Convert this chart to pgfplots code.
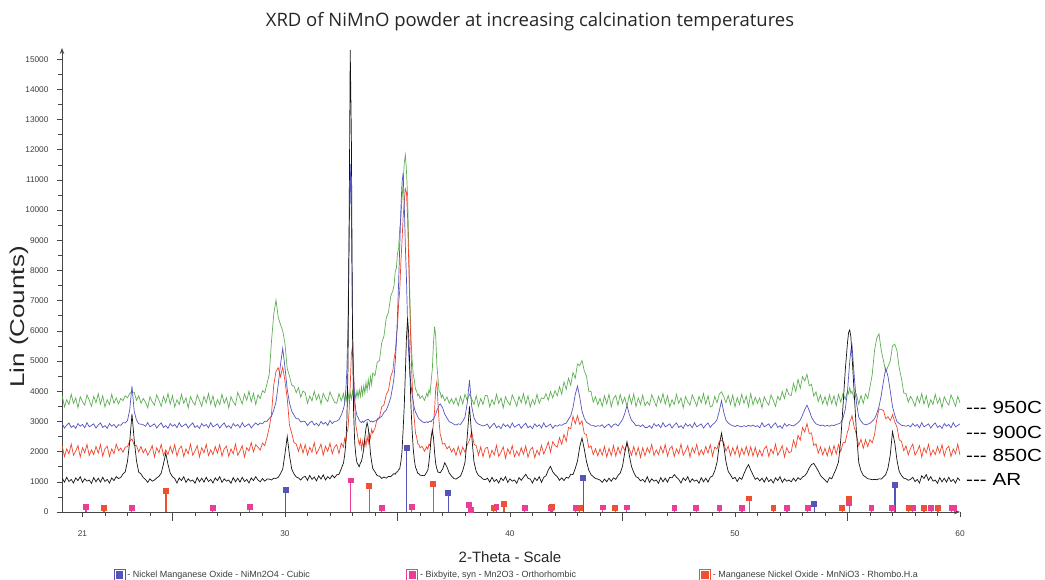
\documentclass[border=0pt]{standalone}
\usepackage{fontspec}
\setmainfont{Liberation Sans}
\newfontfamily\titlefont{Open Sans}
\usepackage{graphicx}
\usepackage{pgfplots}
\usepackage{pgfplotstable}
\pgfplotsset{compat=1.18}
\usetikzlibrary{arrows.meta}

\definecolor{cAR}{RGB}{20,20,20}
\definecolor{c850}{RGB}{240,70,45}
\definecolor{c900}{RGB}{85,85,190}
\definecolor{c950}{RGB}{95,175,85}
\definecolor{sBlue}{RGB}{85,85,185}
\definecolor{sPink}{RGB}{235,60,150}
\definecolor{sRed}{RGB}{240,80,50}
\definecolor{axisgray}{RGB}{70,70,70}
\definecolor{labgray}{RGB}{60,60,60}

% 2-theta, AR, 850C, 900C, 950C (counts)
\pgfplotstableread{
x ar r850 b900 g950
20.1 1120 2180 2920 3850
20.2 990 1840 2780 3480
20.3 1150 2090 2880 3720
20.4 1010 1930 2950 3560
20.5 1080 2250 2800 3900
20.6 960 1880 2860 3600
20.7 1130 2020 2770 3780
20.8 1040 2200 2930 3450
20.9 1170 1820 2840 3820
21.0 980 2130 2900 3650
21.1 1100 1960 2790 3540
21.2 1020 2240 2960 3880
21.3 1060 1870 2820 3700
21.4 950 2060 2870 3500
21.5 1140 1900 2920 3830
21.6 1000 2170 2780 3620
21.7 1120 1950 2880 3920
21.8 990 2230 2950 3570
21.9 1150 1850 2800 3850
22.0 1010 2100 2860 3480
22.1 1080 2180 2770 3720
22.2 960 1840 2930 3560
22.3 1130 2090 2840 3900
22.4 1040 1930 2900 3600
22.5 1170 2250 2790 3780
22.6 1110 2030 2890 3580
22.7 1140 2120 2870 3760
22.8 1260 1980 2960 3690
22.9 1330 2150 2950 3850
23.0 1680 2160 3030 3780
23.1 2330 2350 3380 3930
23.2 3250 2420 4170 3980
23.3 2380 2210 3330 3960
23.4 1700 2200 3050 3700
23.5 1320 1990 2920 3850
23.6 1260 2170 2910 3600
23.7 1140 1960 2890 3760
23.8 1080 2090 2840 3640
23.9 980 1880 2960 3450
24.0 1100 2020 2820 3820
24.1 1020 2200 2870 3650
24.2 1060 1820 2920 3540
24.3 1130 2130 2780 3880
24.4 1180 1960 2880 3700
24.5 1290 2240 2950 3500
24.6 1590 1870 2800 3830
24.7 1950 2060 2860 3620
24.8 1580 1900 2770 3920
24.9 1290 2170 2930 3570
25.0 1170 1950 2840 3850
25.1 1110 2230 2900 3480
25.2 960 1850 2790 3720
25.3 1130 2100 2960 3560
25.4 1040 2180 2820 3900
25.5 1170 1840 2870 3600
25.6 980 2090 2920 3780
25.7 1100 1930 2780 3450
25.8 1020 2250 2880 3820
25.9 1060 1880 2950 3650
26.0 950 2020 2800 3540
26.1 1140 2200 2860 3880
26.2 1000 1820 2770 3700
26.3 1120 2130 2930 3500
26.4 990 1960 2840 3830
26.5 1150 2240 2900 3620
26.6 1010 1870 2790 3920
26.7 1080 2060 2960 3570
26.8 960 1900 2820 3850
26.9 1130 2170 2870 3480
27.0 1040 1950 2920 3720
27.1 1170 2230 2780 3560
27.2 980 1850 2880 3900
27.3 1100 2100 2950 3600
27.4 1020 2180 2800 3780
27.5 1060 1840 2860 3450
27.6 950 2090 2770 3820
27.7 1140 1930 2930 3650
27.8 1000 2250 2840 3540
27.9 1120 1880 2900 3960
28.0 990 2020 2790 3780
28.1 1150 2200 2960 3580
28.2 1010 1820 2820 3910
28.3 1080 2130 2870 3700
28.4 960 2020 2920 4000
28.5 1130 2300 2780 3650
28.6 1040 1990 2880 3930
28.7 1170 2230 2950 3560
28.8 1060 2150 2880 3880
28.9 1000 2050 2950 3760
29.0 1110 2280 2920 4020
29.1 1020 2200 3010 3950
29.2 1090 2470 3000 4250
29.3 1090 2790 3100 4560
29.4 1060 3250 3170 5650
29.5 1120 4200 3370 6550
29.6 1110 4650 3640 7020
29.7 1150 4780 4220 6450
29.8 1270 4480 4880 6210
29.9 1420 4800 5420 6000
30.0 1930 4330 4790 5580
30.1 2500 3760 4060 4750
30.2 1880 2880 3610 4500
30.3 1420 2610 3340 4200
30.4 1260 2300 3210 4170
30.5 1160 2250 3090 3950
30.6 1130 2010 3090 4120
30.7 1060 2250 2980 3800
30.8 1150 1950 3010 4010
30.9 1180 2230 2990 3950
31.0 1050 1890 2860 3600
31.1 1210 2140 2960 3840
31.2 1080 1980 3010 3680
31.3 1160 2300 2880 4000
31.4 1030 1930 2940 3720
31.5 1200 2070 2850 3900
31.6 1090 2250 3000 3580
31.7 1230 1880 2910 3930
31.8 1060 2180 2970 3760
31.9 1170 2010 2870 3660
32.0 1100 2280 3030 3980
32.1 1220 1930 2930 3800
32.2 1130 2150 3000 3640
32.3 1230 2230 3010 3600
32.4 1250 1930 3060 3920
32.5 1430 2280 3210 3680
32.6 1630 2150 3420 3920
32.65 1870 2430 3590 3640
32.7 2230 2300 3960 3950
32.75 3020 2620 4690 3700
32.8 4780 2760 6210 3960
32.85 9500 3350 9000 3680
32.9 15300 4180 11530 3930
32.95 12500 5230 9800 3740
33.0 6000 5480 6300 4000
33.05 3320 4580 4510 3720
33.1 2280 3540 3690 3980
33.15 1870 2870 3360 3750
33.2 1630 2640 3190 4020
33.25 1570 2420 3130 3790
33.3 1500 2230 3040 4050
33.35 1620 2400 2990 3820
33.4 1680 2080 2960 4130
33.45 1870 2350 3010 3870
33.5 2080 2130 2970 4180
33.55 2470 2400 3020 3930
33.6 2780 2190 3040 4290
33.65 2960 2500 3060 4020
33.7 2790 2290 3070 4390
33.75 2420 2600 3030 4110
33.8 1930 2450 2990 4480
33.85 1670 2740 3010 4220
33.9 1440 2610 2980 4600
34.0 1330 2780 3020 4520
34.1 1200 3090 3040 4960
34.2 1190 3130 3120 5020
34.3 1110 3480 3170 5610
34.4 1160 3550 3300 5830
34.5 1120 3890 3370 6420
34.6 1180 4030 3560 6620
34.7 1170 4490 3790 7150
34.8 1250 4700 4210 7350
34.85 1270 5080 4480 7520
34.9 1250 5300 4970 7960
34.95 1320 5760 5590 8080
35.0 1330 6150 6510 8560
35.05 1400 6880 7590 8730
35.1 1440 7350 8800 9380
35.15 1660 8260 10000 9740
35.2 1990 8950 10900 10380
35.25 2710 9760 11220 10850
35.3 3490 10250 10200 11560
35.35 4610 10700 8800 11830
35.4 5790 10580 7700 11280
35.45 6420 9740 6200 10450
35.5 5880 8260 5210 8760
35.55 4710 6740 4590 7140
35.6 3490 5370 4210 5760
35.65 2710 4340 3890 5050
35.7 2090 3470 3660 4560
35.75 1720 3050 3440 4350
35.8 1480 2610 3310 4060
35.85 1400 2490 3240 4020
35.9 1280 2260 3160 3850
35.95 1270 2240 3090 3900
36.0 1220 2130 3060 3760
36.1 1210 2170 2990 3850
36.2 1200 2010 2960 3700
36.3 1320 2160 2990 3930
36.35 1390 2080 2960 3820
36.4 1660 2250 2990 4050
36.45 2040 2190 3010 3930
36.5 2510 2460 2990 4360
36.55 2720 2570 3060 4750
36.6 2460 2950 3070 5620
36.65 1960 3380 3170 6140
36.7 1590 4110 3240 5810
36.75 1430 4320 3360 4880
36.8 1320 3590 3440 4420
36.85 1310 2990 3550 3990
36.9 1300 2560 3580 3960
36.95 1360 2450 3520 3790
37.0 1410 2250 3460 3880
37.1 1630 2270 3240 3680
37.2 1490 2090 3110 3810
37.3 1290 2180 2990 3600
37.4 1190 1990 2960 3750
37.5 1110 2110 2910 3580
37.6 1090 1870 2880 3780
37.7 1140 2170 2920 3520
37.8 1190 1900 2900 3830
37.9 1370 2150 3010 3580
38.0 1640 1980 3140 3900
38.1 2490 2230 3610 3700
38.2 3500 2380 4370 3900
38.3 2510 2660 3490 3740
38.4 1660 2250 3120 3560
38.5 1340 2190 2970 3850
38.6 1210 1880 2910 3500
38.7 1160 2160 2880 3760
38.8 1090 1830 2850 3560
38.9 1070 2110 2870 3860
39.0 1120 2140 2910 3850
39.1 990 1800 2770 3480
39.2 1150 2050 2870 3720
39.3 1010 1890 2940 3560
39.4 1080 2210 2790 3900
39.5 960 1840 2850 3600
39.6 1130 1980 2760 3780
39.7 1040 2160 2920 3450
39.8 1170 1780 2830 3820
39.9 980 2090 2890 3650
40.0 1100 1920 2780 3540
40.1 1020 2200 2950 3880
40.2 1060 1830 2810 3700
40.3 950 2020 2860 3500
40.4 1140 1860 2910 3830
40.5 1050 2130 2770 3620
40.6 1150 1910 2870 3920
40.7 1250 2190 2940 3570
40.8 1120 1810 2790 3850
40.9 1090 2060 2850 3480
41.0 960 2140 2760 3720
41.1 1130 1800 2920 3560
41.2 1040 2050 2830 3900
41.3 1170 1890 2890 3600
41.4 980 2210 2780 3780
41.5 1150 1920 2950 3750
41.6 1200 2100 2810 3920
41.7 1390 2320 2860 3700
41.8 1510 1980 2910 3990
41.9 1330 2330 2770 3780
42.0 1240 2200 2870 4020
42.1 1170 2150 2840 3850
42.2 1050 2460 2890 4150
42.3 1130 2240 2870 3900
42.4 1040 2570 2920 4310
42.5 1150 2340 2940 4060
42.6 1120 2800 3070 4430
42.7 1250 2760 3190 4200
42.8 1240 3170 3460 4620
42.9 1440 2920 3890 4430
43.0 1690 3190 4170 4900
43.1 2160 2900 3810 4850
43.2 2450 3020 3340 5020
43.3 2090 2600 3110 4680
43.4 1670 2560 2970 4500
43.5 1390 2130 2930 4000
43.6 1240 2190 2870 3990
43.7 1170 1900 2870 3640
43.8 1110 2100 2830 3820
43.9 1090 1860 2860 3560
44.0 1060 2090 2840 3760
44.1 980 1880 2890 3500
44.2 1090 2170 2790 3850
44.3 1000 1820 2870 3580
44.4 1120 2110 2910 3900
44.5 1020 1870 2800 3480
44.6 1130 2200 2890 3760
44.7 1080 1850 2920 3860
44.8 1210 2150 2850 3540
44.9 1290 1930 2950 3890
45.0 1510 2190 3060 3600
45.1 1960 2040 3260 3800
45.2 2330 2250 3520 3500
45.3 1890 2100 3240 3880
45.4 1510 1880 3040 3580
45.5 1310 2170 2960 3910
45.6 1170 1870 2860 3490
45.7 1130 2140 2880 3780
45.8 1030 1810 2830 3560
45.9 1080 2130 2890 3870
46.0 990 1860 2800 3520
46.1 1170 2130 2800 3650
46.2 980 1960 2860 3540
46.3 1100 2240 2770 3880
46.4 1020 1870 2930 3700
46.5 1060 2060 2840 3500
46.6 950 1900 2900 3830
46.7 1140 2170 2790 3620
46.8 1000 1950 2960 3920
46.9 1120 2230 2820 3570
47.0 990 1850 2870 3850
47.1 1150 2100 2920 3480
47.2 1130 2180 2780 3720
47.3 1240 1840 2880 3560
47.4 1150 2090 2950 3900
47.5 1080 1930 2800 3600
47.6 960 2250 2860 3780
47.7 1130 1880 2770 3450
47.8 1040 2020 2930 3820
47.9 1170 2200 2840 3650
48.0 980 1820 2900 3540
48.1 1100 2130 2790 3880
48.2 1020 1960 2960 3700
48.3 1060 2240 2820 3500
48.4 950 1870 2870 3830
48.5 1140 2060 2920 3620
48.6 1000 1900 2780 3920
48.7 1120 2170 2880 3570
48.8 990 1950 2950 3850
48.9 1150 2230 2800 3480
49.0 1190 1850 2900 3520
49.1 1360 2150 2950 3830
49.2 1640 2090 3060 3620
49.3 2210 2340 3340 3900
49.4 2610 2380 3690 3980
49.5 2190 2300 3310 3820
49.6 1660 2020 3040 3620
49.7 1340 2180 2950 3860
49.8 1230 1870 2890 3560
49.9 1100 2130 2860 3870
50.0 1150 1900 2830 3480
50.1 1010 2190 2870 3790
50.2 1140 1830 2840 3560
50.3 1080 2110 2820 3900
50.4 1270 1900 2860 3600
50.5 1440 2170 2830 3840
50.6 1570 1880 2870 3480
50.7 1390 2160 2840 3920
50.8 1230 1850 2880 3550
50.9 1080 2140 2830 3800
51.0 1130 1840 2860 3600
51.1 1030 2050 2790 3780
51.2 1120 1850 2960 3450
51.3 990 2100 2820 3820
51.4 1150 2180 2870 3650
51.5 1010 1840 2920 3540
51.6 1080 2090 2780 3880
51.7 960 1930 2880 3700
51.8 1130 2250 2950 3500
51.9 1040 1880 2800 3830
52.0 1170 2020 2860 3700
52.1 980 2200 2770 3990
52.2 1100 1820 2930 3760
52.3 1020 2130 2840 4080
52.4 1060 1960 2900 3880
52.5 1000 2000 2870 3860
52.6 1120 2380 2850 4260
52.7 1020 2140 2900 3990
52.8 1140 2540 2960 4390
52.9 1070 2380 3040 4100
53.0 1160 2800 3210 4480
53.1 1200 2650 3390 4340
53.2 1300 2930 3540 4560
53.3 1460 2600 3360 4180
53.4 1570 2620 3140 4230
53.5 1610 2200 3010 3840
53.6 1490 2260 2920 3980
53.7 1360 1950 2890 3660
53.8 1210 2160 2860 3870
53.9 1130 1890 2880 3580
54.0 1060 2110 2840 3820
54.1 980 1860 2870 3540
54.2 1140 2160 2840 3880
54.3 1100 1890 2880 3590
54.4 1270 2200 2860 3850
54.5 1440 1920 2900 3520
54.6 1660 2230 2920 3900
54.7 2390 2000 2960 3640
54.8 3510 2290 3110 3920
54.9 4690 2310 3400 3740
55.0 5610 2660 4000 4010
55.05 5950 2740 4500 3920
55.1 6030 3000 5000 4120
55.15 5800 3060 5350 3930
55.2 5190 3190 5530 4000
55.3 3910 2800 4490 3750
55.4 2610 2560 3610 3900
55.5 1640 2200 3140 3560
55.6 1360 2410 3010 3860
55.7 1210 2110 2920 3600
55.8 1160 2390 2890 3910
55.9 1100 2170 2910 3760
56.0 1090 2400 2940 4150
56.1 1070 2290 3010 4560
56.2 1080 2560 3090 5340
56.3 1070 3060 3260 5760
56.4 1100 3410 3490 5900
56.5 1090 3400 3860 5350
56.6 1160 3360 4340 5010
56.7 1240 3090 4760 4640
56.8 1460 3160 4490 4820
56.9 1890 3030 4010 5000
57.0 2660 3220 3490 5500
57.1 2290 2990 3210 5560
57.2 1710 2810 2990 5340
57.3 1340 2390 2930 4760
57.4 1210 2340 2870 4420
57.5 1120 2030 2860 3940
57.6 1100 2190 2840 3930
57.7 1050 1890 2870 3640
57.8 1080 2110 2820 3830
57.9 1150 2250 2930 3700
58.0 1010 1880 2840 3500
58.1 1080 2020 2900 3830
58.2 960 2200 2790 3620
58.3 1200 1820 2960 3920
58.4 1110 2130 2820 3570
58.5 1240 1960 2870 3850
58.6 1050 2240 2920 3480
58.7 1170 1870 2780 3720
58.8 1020 2060 2880 3560
58.9 1060 1900 2950 3900
59.0 950 2170 2800 3600
59.1 1140 1950 2860 3780
59.2 1000 2230 2770 3450
59.3 1120 1850 2930 3820
59.4 990 2100 2840 3650
59.5 1150 2180 2900 3540
59.6 1010 1840 2790 3880
59.7 1080 2090 2960 3700
59.8 960 1930 2820 3500
59.9 1130 2250 2870 3830
60.0 1040 1880 2920 3620
}\xrd

\pgfplotsset{
  legblue/.style={legend image code/.code={
      \draw[sBlue,line width=0.7pt,fill=white] (0pt,-5.5pt) rectangle (11pt,5.5pt);
      \fill[sBlue] (2.5pt,-3pt) rectangle (8.5pt,3pt);}},
  legpink/.style={legend image code/.code={
      \draw[sPink,line width=0.7pt,fill=white] (0pt,-5.5pt) rectangle (11pt,5.5pt);
      \fill[sPink] (2.5pt,-3pt) rectangle (8.5pt,3pt);}},
  legred/.style={legend image code/.code={
      \draw[sRed,line width=0.7pt,fill=white] (0pt,-5.5pt) rectangle (11pt,5.5pt);
      \fill[sRed] (2.5pt,-3pt) rectangle (8.5pt,3pt);}},
  stick/.style={ycomb, line width=1.2pt, mark=square*, mark size=2.3pt},
}

\begin{document}
\begin{tikzpicture}
\begin{axis}[
  scale only axis,
  width=898pt, height=464pt,
  at={(62pt,68pt)}, anchor=south west,
  xmin=20.09, xmax=60, ymin=0, ymax=15370,
  axis lines=left,
  axis line style={draw=axisgray, line width=0.8pt, -{Stealth[length=6pt,width=4.5pt]}},
  xtick={21,30,40,50,60},
  minor xtick={22,23,...,59},
  extra x ticks={25,35,45,55},
  extra x tick labels={},
  extra x tick style={major tick length=9pt},
  ytick={0,1000,...,15000},
  minor y tick num=1,
  scaled y ticks=false,
  tick align=outside,
  major tick length=5pt, minor tick length=4pt,
  tick style={draw=axisgray, line width=0.6pt},
  ticklabel style={font=\fontsize{8.3}{9}\selectfont, text=labgray},
  xticklabel style={yshift=-10pt},
  yticklabel style={xshift=-5pt},
  /pgf/number format/.cd, 1000 sep={}, assume math mode=true,
  /pgfplots/.cd,
  legend style={at={(0.0574,-0.1358)}, anchor=west, draw=none, fill=none,
    inner sep=0pt, font=\fontsize{9}{10}\selectfont, text=labgray,
    /tikz/every even column/.append style={column sep=0pt}},
  legend columns=3,
]
\addplot[c950, line width=0.7pt, forget plot] table[x=x, y=g950] {\xrd};
\addplot[c850, line width=0.7pt, forget plot] table[x=x, y=r850] {\xrd};
\addplot[c900, line width=0.7pt, forget plot] table[x=x, y=b900] {\xrd};
\addplot[cAR, line width=0.7pt, forget plot] table[x=x, y=ar] {\xrd};

% reference patterns
\addplot[stick, sBlue, legblue] coordinates {
  (30.04,730) (35.41,2110) (37.26,620) (43.26,1120) (53.52,260) (57.11,900)};
\addlegendentry{\makebox[277pt][l]{- Nickel Manganese Oxide - NiMn2O4 - Cubic}}
\addplot[stick, sPink, legpink] coordinates {
  (21.16,175) (23.19,130) (26.79,130) (28.44,175) (32.92,1040) (34.30,130)
  (35.63,175) (38.19,230) (38.26,60) (39.40,165) (40.66,130) (41.82,130)
  (42.92,130) (44.12,150) (45.19,150) (47.31,130) (48.28,140) (49.31,130)
  (50.31,130) (52.31,140) (53.23,130) (55.08,310) (56.07,130) (56.97,120)
  (57.90,120) (58.72,130) (59.62,120) (59.74,120)};
\addlegendentry{\makebox[277pt][l]{- Bixbyite, syn - Mn2O3 - Orthorhombic}}
\addplot[stick, sRed, legred] coordinates {
  (21.96,130) (24.71,700) (33.74,860) (36.59,930) (39.27,140) (39.73,265)
  (41.88,175) (43.10,120) (44.68,140) (50.63,450) (51.71,120) (54.77,120)
  (55.08,430) (57.72,130) (58.40,120) (59.02,120)};
\addlegendentry{\makebox[277pt][l]{- Manganese Nickel Oxide - MnNiO3 - Rhombo.H.a}}
\end{axis}

\node[font=\titlefont\fontsize{18.5}{20}\selectfont, text=black!85] at (530pt,558pt)
  {XRD of NiMnO powder at increasing calcination temperatures};
\node[font=\fontsize{20}{22}\selectfont, rotate=90, text=black!85] at (19pt,263pt)
  {\scalebox{1.3}[1]{Lin (Counts)}};
\node[font=\fontsize{15}{17}\selectfont, text=black!85] at (510pt,23pt) {2-Theta - Scale};
\node[font=\fontsize{17.5}{19}\selectfont, anchor=west, inner sep=0pt] at (966pt,173pt)
  {\scalebox{1.18}[1]{-{}-{}- 950C}};
\node[font=\fontsize{17.5}{19}\selectfont, anchor=west, inner sep=0pt] at (966pt,148pt)
  {\scalebox{1.18}[1]{-{}-{}- 900C}};
\node[font=\fontsize{17.5}{19}\selectfont, anchor=west, inner sep=0pt] at (966pt,125pt)
  {\scalebox{1.18}[1]{-{}-{}- 850C}};
\node[font=\fontsize{17.5}{19}\selectfont, anchor=west, inner sep=0pt] at (966pt,101pt)
  {\scalebox{1.18}[1]{-{}-{}- AR}};

\pgfresetboundingbox
\useasboundingbox (0,0) rectangle (1045pt,580pt);
\end{tikzpicture}
\end{document}
